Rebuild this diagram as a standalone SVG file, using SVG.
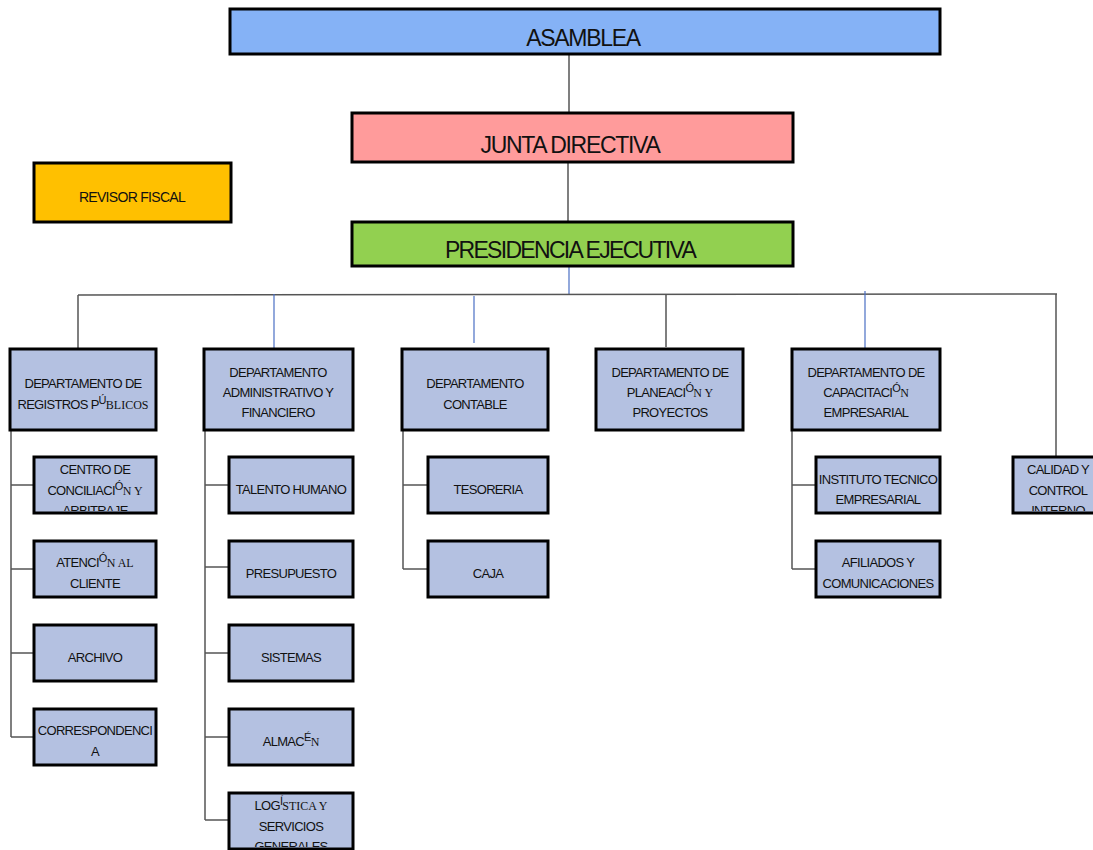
<svg xmlns="http://www.w3.org/2000/svg" width="1093" height="850" viewBox="0 0 1093 850">
<style>
.box{fill:#b4c1e1;stroke:#000;stroke-width:3}
.t{font-family:"Liberation Sans",Arial,sans-serif;font-size:13px;letter-spacing:-0.7px;fill:#111;text-anchor:middle}
.big{font-family:"Liberation Sans",Arial,sans-serif;font-size:23px;letter-spacing:-1.3px;fill:#111;text-anchor:middle}
.sf{font-family:"Liberation Serif","Times New Roman",serif;font-size:12px;letter-spacing:0}
.ac{font-size:11px}
.c{stroke:#555;stroke-width:1.5;fill:none}
.b{stroke:#4a6fc4;stroke-width:1.2;fill:none}
</style>
<defs>
<clipPath id="cl1"><rect x="34" y="457" width="122" height="54"/></clipPath>
<clipPath id="cl2"><rect x="229" y="793" width="124" height="54"/></clipPath>
<clipPath id="cl3"><rect x="1013" y="457" width="80" height="54"/></clipPath>
</defs>
<rect width="1093" height="850" fill="#fff"/>
<g id="connectors">
<line class="c" x1="569" y1="54" x2="569" y2="113"/>
<line class="c" x1="568" y1="162" x2="568" y2="222"/>
<line class="b" x1="569" y1="266" x2="569" y2="294"/>
<line class="c" x1="78" y1="295" x2="1057" y2="294"/>
<line class="c" x1="78" y1="295" x2="78" y2="348"/>
<line class="b" x1="274" y1="294" x2="274" y2="349"/>
<line class="b" x1="474" y1="296" x2="474" y2="343"/>
<line class="c" x1="666" y1="294" x2="666" y2="347"/>
<line class="b" x1="865" y1="291" x2="865" y2="348"/>
<line class="c" x1="1056" y1="294" x2="1056" y2="458"/>
<line class="c" x1="11" y1="430" x2="11" y2="737"/>
<line class="c" x1="11" y1="485" x2="34" y2="485"/>
<line class="c" x1="11" y1="569" x2="34" y2="569"/>
<line class="c" x1="11" y1="653" x2="34" y2="653"/>
<line class="c" x1="11" y1="737" x2="34" y2="737"/>
<line class="c" x1="205" y1="430" x2="205" y2="820"/>
<line class="c" x1="205" y1="485" x2="229" y2="485"/>
<line class="c" x1="205" y1="567" x2="229" y2="567"/>
<line class="c" x1="205" y1="653" x2="229" y2="653"/>
<line class="c" x1="205" y1="737" x2="229" y2="737"/>
<line class="c" x1="205" y1="820" x2="229" y2="820"/>
<line class="c" x1="403" y1="430" x2="403" y2="569"/>
<line class="c" x1="403" y1="485" x2="428" y2="485"/>
<line class="c" x1="403" y1="569" x2="428" y2="569"/>
<line class="c" x1="792" y1="430" x2="792" y2="569"/>
<line class="c" x1="792" y1="485" x2="816" y2="485"/>
<line class="c" x1="792" y1="569" x2="816" y2="569"/>
</g>
<g id="asamblea"><rect x="230" y="9" width="710" height="45" fill="#85b2f6" stroke="#000" stroke-width="3"/><text class="big" x="583" y="46">ASAMBLEA</text></g>
<g id="junta"><rect x="352" y="113" width="441" height="49" fill="#ff9b9b" stroke="#000" stroke-width="3"/><text class="big" x="570" y="153">JUNTA DIRECTIVA</text></g>
<g id="presidencia"><rect x="352" y="222" width="441" height="44" fill="#92d050" stroke="#000" stroke-width="3"/><text class="big" x="570" y="258" style="letter-spacing:-1.7px">PRESIDENCIA EJECUTIVA</text></g>
<g id="revisor"><rect x="34" y="163" width="197" height="59" fill="#ffc000" stroke="#000" stroke-width="3"/><text class="t" x="132" y="202" style="font-size:14px">REVISOR FISCAL</text></g>

<g id="dep1"><rect class="box" x="10" y="349" width="146" height="81"/>
<text class="t" x="83" y="388">DEPARTAMENTO DE</text>
<text class="t" x="83" y="409">REGISTROS P<tspan class="ac" dy="-5">Ú</tspan><tspan class="sf" dy="5">BLICOS</tspan></text></g>
<g id="dep2"><rect class="box" x="204" y="349" width="149" height="81"/>
<text class="t" x="278" y="377">DEPARTAMENTO</text>
<text class="t" x="278" y="397">ADMINISTRATIVO Y</text>
<text class="t" x="278" y="417">FINANCIERO</text></g>
<g id="dep3"><rect class="box" x="402" y="349" width="146" height="81"/>
<text class="t" x="475" y="388">DEPARTAMENTO</text>
<text class="t" x="475" y="409">CONTABLE</text></g>
<g id="dep4"><rect class="box" x="596" y="349" width="147" height="81"/>
<text class="t" x="670" y="377">DEPARTAMENTO DE</text>
<text class="t" x="670" y="397">PLANEACI<tspan class="ac" dy="-5">Ó</tspan><tspan class="sf" dy="5">N Y</tspan></text>
<text class="t" x="670" y="417">PROYECTOS</text></g>
<g id="dep5"><rect class="box" x="792" y="349" width="148" height="81"/>
<text class="t" x="866" y="377">DEPARTAMENTO DE</text>
<text class="t" x="866" y="397">CAPACITACI<tspan class="ac" dy="-5">Ó</tspan><tspan class="sf" dy="5">N</tspan></text>
<text class="t" x="866" y="417">EMPRESARIAL</text></g>
<g id="calidad"><rect class="box" x="1013" y="457" width="86" height="56"/>
<g clip-path="url(#cl3)"><text class="t" x="1058" y="474">CALIDAD Y</text>
<text class="t" x="1058" y="495">CONTROL</text>
<text class="t" x="1058" y="515">INTERNO</text></g></g>

<g id="centro"><rect class="box" x="34" y="457" width="122" height="56"/>
<g clip-path="url(#cl1)"><text class="t" x="95" y="474">CENTRO DE</text>
<text class="t" x="95" y="495">CONCILIACI<tspan class="ac" dy="-5">Ó</tspan><tspan class="sf" dy="5">N Y</tspan></text>
<text class="t" x="95" y="515">ARBITRAJE</text></g></g>
<g id="atencion"><rect class="box" x="34" y="541" width="122" height="56"/>
<text class="t" x="95" y="567">ATENCI<tspan class="ac" dy="-5">Ó</tspan><tspan class="sf" dy="5">N AL</tspan></text>
<text class="t" x="95" y="588">CLIENTE</text></g>
<g id="archivo"><rect class="box" x="34" y="625" width="122" height="56"/>
<text class="t" x="95" y="662">ARCHIVO</text></g>
<g id="correspondencia"><rect class="box" x="34" y="709" width="122" height="56"/>
<text class="t" x="95" y="735">CORRESPONDENCI</text>
<text class="t" x="95" y="756">A</text></g>

<g id="talento"><rect class="box" x="229" y="457" width="124" height="56"/>
<text class="t" x="291" y="494">TALENTO HUMANO</text></g>
<g id="presupuesto"><rect class="box" x="229" y="541" width="124" height="56"/>
<text class="t" x="291" y="578">PRESUPUESTO</text></g>
<g id="sistemas"><rect class="box" x="229" y="625" width="124" height="56"/>
<text class="t" x="291" y="662">SISTEMAS</text></g>
<g id="almacen"><rect class="box" x="229" y="709" width="124" height="56"/>
<text class="t" x="291" y="746">ALMAC<tspan class="ac" dy="-5">É</tspan><tspan class="sf" dy="5">N</tspan></text></g>
<g id="logistica"><rect class="box" x="229" y="793" width="124" height="56"/>
<g clip-path="url(#cl2)"><text class="t" x="291" y="810">LOG<tspan class="ac" dy="-5">Í</tspan><tspan class="sf" dy="5">STICA Y</tspan></text>
<text class="t" x="291" y="831">SERVICIOS</text>
<text class="t" x="291" y="851">GENERALES</text></g></g>

<g id="tesoreria"><rect class="box" x="428" y="457" width="120" height="56"/>
<text class="t" x="488" y="494">TESORERIA</text></g>
<g id="caja"><rect class="box" x="428" y="541" width="120" height="56"/>
<text class="t" x="488" y="578">CAJA</text></g>

<g id="instituto"><rect class="box" x="816" y="457" width="124" height="56"/>
<text class="t" x="878" y="484">INSTITUTO TECNICO</text>
<text class="t" x="878" y="504">EMPRESARIAL</text></g>
<g id="afiliados"><rect class="box" x="816" y="541" width="124" height="56"/>
<text class="t" x="878" y="567">AFILIADOS Y</text>
<text class="t" x="878" y="588">COMUNICACIONES</text></g>
</svg>
